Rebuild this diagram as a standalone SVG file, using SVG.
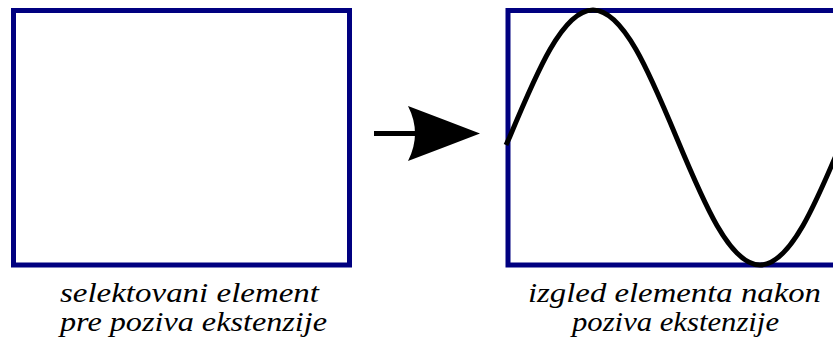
<svg xmlns="http://www.w3.org/2000/svg" width="833" height="351" viewBox="0 0 833 351">
<style>
.frame{fill:#fff;stroke:#000080;stroke-width:5}
.lbl{font-size:28px;fill:#000}
</style>
<rect width="833" height="351" fill="#fff"/>
<g id="before">
<rect class="frame" x="13.5" y="10.5" width="336" height="254.5"/>
<text class="lbl" style="font-family:'Liberation Serif','Times New Roman','DejaVu Serif',serif;font-style:italic" x="60" y="302" textLength="259" lengthAdjust="spacingAndGlyphs">selektovani element</text>
<text class="lbl" style="font-family:'Liberation Serif','Times New Roman','DejaVu Serif',serif;font-style:italic" x="60" y="331" textLength="267" lengthAdjust="spacingAndGlyphs">pre poziva ekstenzije</text>
</g>
<g id="after">
<rect class="frame" x="508" y="10.5" width="340" height="254.5"/>
<path d="M506,145 L509.5,137.5 C536.7,72.2 562.8,10 593,10 C623.2,10 649.3,72.2 676.5,137.5 C703.7,202.8 729.8,265 760,265 C790.2,265 816.3,202.8 843.5,137.5" fill="none" stroke="#000" stroke-width="5"/>
<text class="lbl" style="font-family:'Liberation Serif','Times New Roman','DejaVu Serif',serif;font-style:italic" x="528" y="302" textLength="293" lengthAdjust="spacingAndGlyphs">izgled elementa nakon</text>
<text class="lbl" style="font-family:'Liberation Serif','Times New Roman','DejaVu Serif',serif;font-style:italic" x="572" y="331" textLength="207" lengthAdjust="spacingAndGlyphs">poziva ekstenzije</text>
</g>
<g id="connectors">
<line x1="374" y1="133.5" x2="420" y2="133.5" stroke="#000" stroke-width="5"/>
<path d="M408,106 Q445,120 480,133.5 Q445,147 408,161 Q422,133.5 408,106 Z" fill="#000"/>
</g>
</svg>
